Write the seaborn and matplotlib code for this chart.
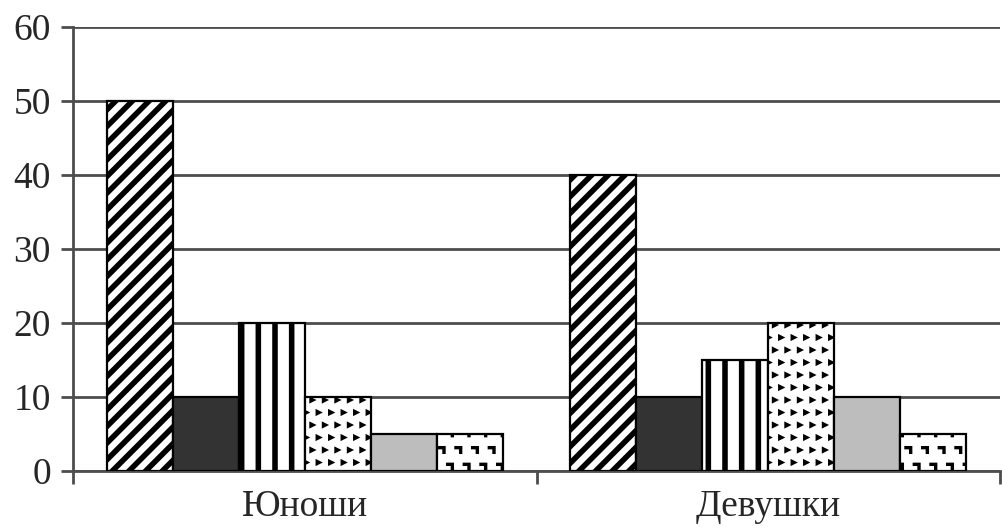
import warnings
import numpy as np
import pandas as pd
import matplotlib
matplotlib.use("Agg")
import matplotlib.pyplot as plt
import matplotlib.hatch as mhatch
from matplotlib.path import Path
import seaborn as sns

# Chart data
groups = ["Юноши", "Девушки"]
series = ["Ряд 1", "Ряд 2", "Ряд 3", "Ряд 4", "Ряд 5", "Ряд 6"]
values_boys = [50, 10, 20, 10, 5, 5]
values_girls = [40, 10, 15, 20, 10, 5]
y_ticks = [0, 10, 20, 30, 40, 50, 60]

# Bar styles (fill colour, hatch) per series
face_colors = ["white", "#333333", "white", "white", "#bdbdbd", "white"]
hatches = ["//", "", "|", "t", "", "c"]
hatch_widths = [4.0, 1, 4.0, 1, 1, 1]


# Small triangles for the dotted series (custom hatch, char 't')
class TriangleHatch(mhatch.Shapes):
    size = 0.2
    filled = True
    shape_vertices = np.array([[-1.0, 1.0], [1.0, 0.0], [-1.0, -1.0], [-1.0, 1.0]])
    shape_codes = np.array([Path.MOVETO, Path.LINETO, Path.LINETO, Path.CLOSEPOLY])

    def __init__(self, hatch, density):
        self.num_rows = hatch.count("t") * 8
        super().__init__(hatch, density)


# Small "corner" marks for the last series (custom hatch, char 'c')
class CornerHatch(mhatch.Shapes):
    size = 0.2
    filled = True
    shape_vertices = np.array([[-1.0, 1.0], [1.0, 1.0], [1.0, -1.0],
                               [0.4, -1.0], [0.4, 0.4], [-1.0, 0.4],
                               [-1.0, 1.0]])
    shape_codes = np.array([Path.MOVETO] + [Path.LINETO] * 5 + [Path.CLOSEPOLY])

    def __init__(self, hatch, density):
        self.num_rows = hatch.count("c") * density
        super().__init__(hatch, density)


mhatch._hatch_types.append(TriangleHatch)
mhatch._hatch_types.append(CornerHatch)
warnings.filterwarnings("ignore")

# Long table for seaborn
rows = []
for g, vals in zip(groups, [values_boys, values_girls]):
    for s, v in zip(series, vals):
        rows.append({"group": g, "series": s, "value": v})
df = pd.DataFrame(rows)

sns.set_style("white")
plt.rcParams["font.family"] = ["Liberation Serif", "DejaVu Serif"]

fig = plt.figure(figsize=(10.02, 5.28), dpi=100)
ax = fig.add_axes([0.073, 0.108, 0.925, 0.841])

sns.barplot(data=df, x="group", y="value", hue="series", order=groups,
            hue_order=series, width=0.855, gap=0, legend=False,
            palette=["white"] * len(series), edgecolor="black",
            linewidth=1.6, saturation=1, ax=ax, zorder=3)

# apply fill colour and pattern to each series
for cont, fc, h, hw in zip(ax.containers, face_colors, hatches, hatch_widths):
    for bar in cont:
        bar.set_facecolor(fc)
        bar.set_hatch(h)
        bar.set_edgecolor("black")
        if hasattr(bar, "set_hatch_linewidth"):
            bar.set_hatch_linewidth(hw)

ax.set_xlim(-0.5, 1.5)
ax.set_ylim(0, 60)
ax.set_yticks(y_ticks)
ax.yaxis.grid(True, color="#4d4d4d", linewidth=2, zorder=0)
ax.set_axisbelow(True)
ax.set_xlabel("")
ax.set_ylabel("")

for side in ["top", "right"]:
    ax.spines[side].set_visible(False)
for side in ["left", "bottom"]:
    ax.spines[side].set_color("#4d4d4d")
    ax.spines[side].set_linewidth(2)

ax.tick_params(axis="y", left=True, length=9, width=2, color="#4d4d4d",
               labelsize=27, pad=7)
ax.tick_params(axis="x", which="major", length=0, labelsize=27, pad=13)
ax.set_xticks([-0.5, 0.5, 1.5], minor=True)
ax.tick_params(axis="x", which="minor", bottom=True, length=9, width=2,
               color="#4d4d4d")

plt.savefig("out.png", dpi=100)
